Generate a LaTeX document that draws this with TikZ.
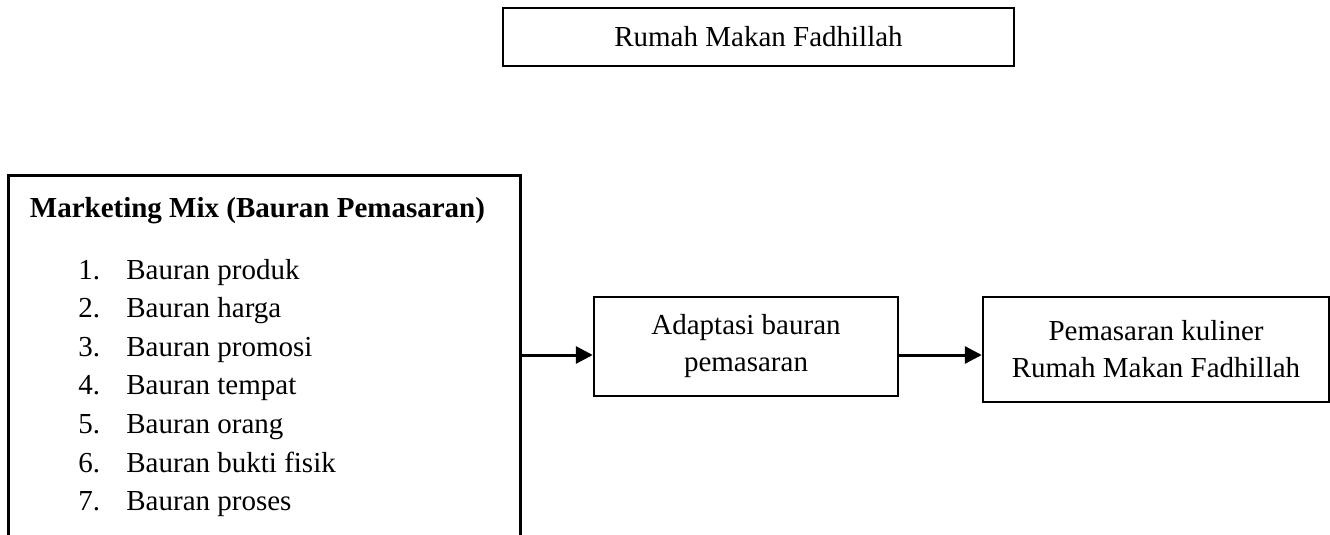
\documentclass[tikz,border=0pt]{standalone}
\usepackage{fontspec}
\setmainfont{Liberation Serif}
\usetikzlibrary{arrows.meta}
\begin{document}
\begin{tikzpicture}[x=0.5pt,y=-0.5pt,
  box/.style={draw,line width=1.2pt,inner sep=0pt,align=center,font=\fontsize{14.5}{18.5}\selectfont},
  txt/.style={inner sep=0pt,anchor=base west,font=\fontsize{14.5}{18.5}\selectfont},
  frame/.style={line width=1.2pt},
  conn/.style={line width=1.5pt,-{Triangle[length=8.5pt,width=8.5pt]}}]
\useasboundingbox[fill=white] (0,0) rectangle (1330,535);
\node[box,minimum width=255.5pt,minimum height=29pt] (top) at (758.5,37) {Rumah Makan Fadhillah};
\node[inner sep=0pt,minimum width=255.5pt,minimum height=179.5pt] (mix) at (264.5,355.5) {};
\draw[frame] (mix.south west) -- (mix.north west) -- (mix.north east) -- (mix.south east);
\node[txt,font=\fontsize{14.5}{18.5}\selectfont\bfseries] (title) at (29.5,218) {Marketing Mix (Bauran Pemasaran)};
\foreach \k/\t [count=\n from 0] in {1/Bauran produk,2/Bauran harga,3/Bauran promosi,4/Bauran tempat,5/Bauran orang,6/Bauran bukti fisik,7/Bauran proses} {
  \node[txt] (num\k) at (78,279+38.6*\n) {\k.};
  \node[txt] (item\k) at (126,279+38.6*\n) {\t};
}
\node[box,minimum width=152pt,minimum height=49.5pt] (adapt) at (746,346.5) {Adaptasi bauran\\pemasaran};
\node[box,minimum width=173pt,minimum height=52.5pt] (pk) at (1156,349.5) {Pemasaran kuliner\\Rumah Makan Fadhillah};
\draw[conn] ([yshift=-4.25pt]adapt.west -| mix.east) -- ([yshift=-4.25pt]adapt.west);
\draw[conn] ([yshift=-4.25pt]adapt.east) -- ([yshift=-4.25pt]adapt.east -| pk.west);
\end{tikzpicture}
\end{document}
